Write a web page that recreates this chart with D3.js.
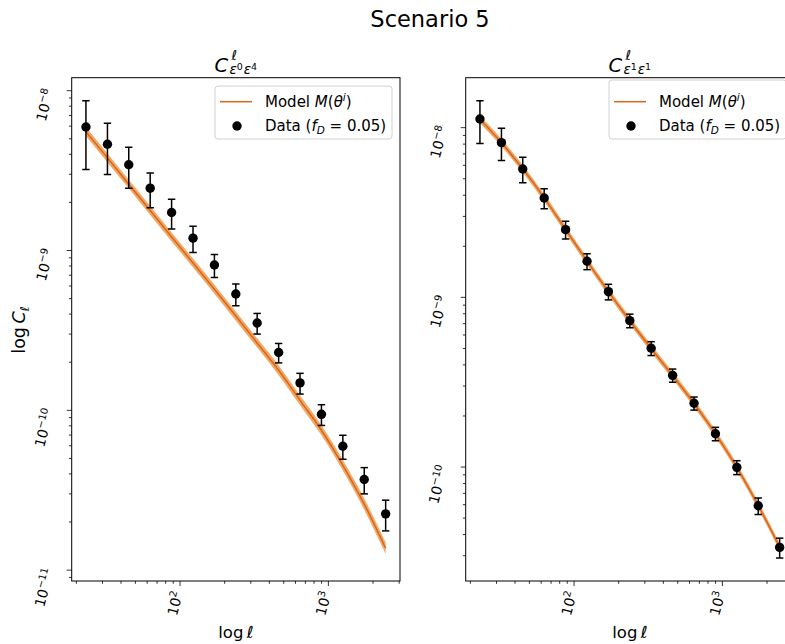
<!DOCTYPE html>
<html>
<head>
<meta charset="utf-8">
<script src="https://cdn.jsdelivr.net/npm/d3@7"></script>
<style>
  body { margin: 0; background: #fff; }
  svg { display: block; font-family: "DejaVu Sans", sans-serif; }
</style>
</head>
<body>
<svg id="chart" width="785" height="644"></svg>
<script>
// multipole bin centres
const ell = [23.2, 32.4, 45.1, 62.9, 87.7, 122.3, 170.5, 237.7, 331, 462, 644, 898, 1252, 1745, 2433];

// C_{eps0 eps4}
const dataA  = [5.93e-9, 4.62e-9, 3.44e-9, 2.455e-9, 1.728e-9, 1.195e-9, 8.11e-10, 5.34e-10, 3.52e-10, 2.30e-10, 1.484e-10, 9.44e-11, 5.96e-11, 3.69e-11, 2.25e-11];
const errA   = [2.72e-9, 1.63e-9, 0.99e-9, 0.60e-9, 0.367e-9, 0.225e-9, 1.33e-10, 0.83e-10, 0.52e-10, 0.32e-10, 0.22e-10, 0.14e-10, 1.02e-11, 0.69e-11, 0.49e-11];
const modelA = [5.55e-9, 3.80e-9, 2.60e-9, 1.78e-9, 1.216e-9, 8.36e-10, 5.73e-10, 3.89e-10, 2.64e-10, 1.78e-10, 1.155e-10, 7.5e-11, 4.53e-11, 2.59e-11, 1.37e-11];
const bandLoA = [5.20e-9, 3.56e-9, 2.44e-9, 1.67e-9, 1.14e-9, 7.84e-10, 5.37e-10, 3.64e-10, 2.47e-10, 1.66e-10, 1.075e-10, 6.97e-11, 4.20e-11, 2.39e-11, 1.26e-11];
const bandHiA = [5.92e-9, 4.05e-9, 2.77e-9, 1.90e-9, 1.297e-9, 8.92e-10, 6.11e-10, 4.15e-10, 2.82e-10, 1.91e-10, 1.24e-10, 8.07e-11, 4.89e-11, 2.81e-11, 1.49e-11];

// C_{eps1 eps1}
const dataB  = [1.125e-8, 8.16e-9, 5.71e-9, 3.85e-9, 2.506e-9, 1.632e-9, 1.08e-9, 7.29e-10, 5.01e-10, 3.47e-10, 2.375e-10, 1.571e-10, 9.96e-11, 5.91e-11, 3.36e-11];
const errB   = [3.17e-9, 1.76e-9, 0.98e-9, 0.52e-9, 0.30e-9, 0.176e-9, 1.14e-10, 0.67e-10, 0.47e-10, 0.31e-10, 0.21e-10, 0.143e-10, 0.94e-11, 0.66e-11, 0.45e-11];
const modelB = [1.12e-8, 8.15e-9, 5.72e-9, 3.86e-9, 2.51e-9, 1.635e-9, 1.08e-9, 7.28e-10, 5.0e-10, 3.46e-10, 2.37e-10, 1.57e-10, 9.95e-11, 5.93e-11, 3.38e-11];
const bandLoB = [1.065e-8, 7.75e-9, 5.44e-9, 3.67e-9, 2.386e-9, 1.554e-9, 1.027e-9, 6.92e-10, 4.75e-10, 3.29e-10, 2.253e-10, 1.492e-10, 9.46e-11, 5.64e-11, 3.21e-11];
const bandHiB = [1.178e-8, 8.57e-9, 6.02e-9, 4.06e-9, 2.64e-9, 1.72e-9, 1.136e-9, 7.66e-10, 5.26e-10, 3.64e-10, 2.493e-10, 1.652e-10, 1.047e-10, 6.24e-11, 3.56e-11];

const xTicks  = [1e2, 1e3];
const xTickExp = ["2", "3"];
const yTicksA = [1e-8, 1e-9, 1e-10, 1e-11];
const yTickExpA = ["\u22128", "\u22129", "\u221210", "\u221211"];
const yTicksB = [1e-8, 1e-9, 1e-10];
const yTickExpB = ["\u22128", "\u22129", "\u221210"];

const figTitle = "Scenario 5";
const panelSubs = [["0", "4"], ["1", "1"]];
const legendModel = "Model";
const legendData = "Data";
const fDValue = "0.05";

const lineColor = "#d8661d";
const bandColor = "#ef9a4c";

const svg = d3.select("#chart");

const panels = [
  { left: 71.7, right: 400, top: 77.7, bottom: 581, yDomain: [8.55e-12, 1.206e-8],
    data: dataA, err: errA, model: modelA, lo: bandLoA, hi: bandHiA,
    yTicks: yTicksA, yExp: yTickExpA, sub: panelSubs[0], legendTop: 86, yLabel: true },
  { left: 465.7, right: 794, top: 77.7, bottom: 581, yDomain: [2.13e-11, 1.970e-8],
    data: dataB, err: errB, model: modelB, lo: bandLoB, hi: bandHiB,
    yTicks: yTicksB, yExp: yTickExpB, sub: panelSubs[1], legendTop: 80, yLabel: false }
];

// figure title
svg.append("text")
  .attr("x", 430).attr("y", 27.3)
  .attr("text-anchor", "middle")
  .attr("font-size", 22.5)
  .attr("fill", "#000")
  .text(figTitle);

function minorTicks(domain) {
  const out = [];
  const e0 = Math.floor(Math.log10(domain[0])), e1 = Math.ceil(Math.log10(domain[1]));
  for (let e = e0; e <= e1; e++) {
    for (let m = 2; m <= 9; m++) {
      const v = m * Math.pow(10, e);
      if (v >= domain[0] && v <= domain[1]) out.push(v);
    }
  }
  return out;
}

// "10^k" label, rotated, anchored at its end
function powerLabel(g, x, y, exp) {
  const t = g.append("text")
    .attr("transform", `translate(${x},${y}) rotate(-75)`)
    .attr("text-anchor", "end")
    .attr("font-size", 14)
    .attr("fill", "#000");
  t.append("tspan").text("10");
  t.append("tspan").attr("font-size", 10).attr("dy", -5.8).text(exp);
}

panels.forEach((p, pi) => {
  const g = svg.append("g");
  const x = d3.scaleLog().domain([18.6, 3040]).range([p.left, p.right]);
  const y = d3.scaleLog().domain(p.yDomain).range([p.bottom, p.top]);

  const clipId = "clip" + pi;
  svg.append("clipPath").attr("id", clipId)
    .append("rect").attr("x", p.left).attr("y", p.top)
    .attr("width", p.right - p.left).attr("height", p.bottom - p.top);

  const plot = g.append("g").attr("clip-path", `url(#${clipId})`);

  // model uncertainty band and best-fit line
  const area = d3.area()
    .x((d, i) => x(ell[i]))
    .y0((d, i) => y(p.lo[i]))
    .y1((d, i) => y(p.hi[i]))
    .curve(d3.curveMonotoneX);
  plot.append("path").datum(p.model)
    .attr("d", area)
    .attr("fill", bandColor).attr("fill-opacity", 0.85);

  const line = d3.line()
    .x((d, i) => x(ell[i]))
    .y(d => y(d))
    .curve(d3.curveMonotoneX);
  plot.append("path").datum(p.model)
    .attr("d", line)
    .attr("fill", "none").attr("stroke", lineColor).attr("stroke-width", 1.5);

  // error bars
  const eb = plot.append("g").attr("stroke", "#000").attr("stroke-width", 1.5);
  p.data.forEach((v, i) => {
    const cx = x(ell[i]);
    const yt = y(v + p.err[i]), yb = y(v - p.err[i]);
    eb.append("line").attr("x1", cx).attr("x2", cx).attr("y1", yt).attr("y2", yb);
    eb.append("line").attr("x1", cx - 3.7).attr("x2", cx + 3.7).attr("y1", yt).attr("y2", yt);
    eb.append("line").attr("x1", cx - 3.7).attr("x2", cx + 3.7).attr("y1", yb).attr("y2", yb);
  });
  plot.append("g").selectAll("circle").data(p.data).join("circle")
    .attr("cx", (d, i) => x(ell[i]))
    .attr("cy", d => y(d))
    .attr("r", 4.7)
    .attr("fill", "#000");

  // ticks
  const tk = g.append("g").attr("stroke", "#000").attr("stroke-width", 0.8);
  p.yTicks.forEach(v => {
    tk.append("line").attr("x1", p.left - 5).attr("x2", p.left).attr("y1", y(v)).attr("y2", y(v));
  });
  minorTicks(p.yDomain).forEach(v => {
    tk.append("line").attr("x1", p.left - 2.8).attr("x2", p.left).attr("y1", y(v)).attr("y2", y(v));
  });
  xTicks.forEach(v => {
    tk.append("line").attr("x1", x(v)).attr("x2", x(v)).attr("y1", p.bottom).attr("y2", p.bottom + 5);
  });
  minorTicks([18.6, 3040]).forEach(v => {
    tk.append("line").attr("x1", x(v)).attr("x2", x(v)).attr("y1", p.bottom).attr("y2", p.bottom + 2.8);
  });

  p.yTicks.forEach((v, i) => powerLabel(g, p.left - 17.7, y(v), p.yExp[i]));
  xTicks.forEach((v, i) => powerLabel(g, x(v) + 3, p.bottom + 12, xTickExp[i]));

  // spines
  g.append("rect")
    .attr("x", p.left).attr("y", p.top)
    .attr("width", p.right - p.left).attr("height", p.bottom - p.top)
    .attr("fill", "none").attr("stroke", "#000").attr("stroke-width", 1);

  // panel title  C^l_{eps^a eps^b}
  const tg = g.append("g");
  const cT = tg.append("text").attr("x", 0).attr("y", 0)
    .attr("font-size", 19.5).attr("font-style", "italic").text("C");
  const wC = cT.node().getComputedTextLength();
  tg.append("text").attr("x", wC + 3.2).attr("y", -12)
    .attr("font-size", 13.5).attr("font-style", "italic").text("\u2113");
  const st = tg.append("text").attr("x", wC + 1.2).attr("y", 2.5).attr("font-size", 13.5);
  st.append("tspan").attr("font-style", "italic").text("\u03b5");
  st.append("tspan").attr("font-size", 9.5).attr("dy", -4.5).text(p.sub[0]);
  st.append("tspan").attr("font-style", "italic").attr("dx", 1).attr("dy", 4.5).text("\u03b5");
  st.append("tspan").attr("font-size", 9.5).attr("dy", -4.5).text(p.sub[1]);
  const bb = tg.node().getBBox();
  const cxT = (p.left + p.right) / 2;
  tg.attr("transform", `translate(${cxT - bb.width / 2 - bb.x},71.7)`);

  // axis labels
  const xl = g.append("text")
    .attr("x", cxT).attr("y", 638)
    .attr("text-anchor", "middle").attr("font-size", 16.5);
  xl.append("tspan").text("log\u2009");
  xl.append("tspan").attr("font-style", "italic").text("\u2113");

  if (p.yLabel) {
    const yl = g.append("text")
      .attr("transform", `translate(25,330) rotate(-90)`)
      .attr("text-anchor", "middle").attr("font-size", 17.5);
    yl.append("tspan").text("log\u2009");
    yl.append("tspan").attr("font-style", "italic").text("C");
    yl.append("tspan").attr("font-style", "italic").attr("font-size", 12.2).attr("dy", 3.8).text("\u2113");
  }

  // legend
  const lx = p.right - 8 - 177;
  const lg = g.append("g");
  lg.append("rect")
    .attr("x", lx).attr("y", p.legendTop)
    .attr("width", 177).attr("height", 139 - p.legendTop)
    .attr("rx", 3).attr("ry", 3)
    .attr("fill", "#fff").attr("fill-opacity", 0.8)
    .attr("stroke", "#d0d0d0").attr("stroke-width", 1);
  lg.append("line")
    .attr("x1", lx + 5).attr("x2", lx + 37).attr("y1", 101.7).attr("y2", 101.7)
    .attr("stroke", lineColor).attr("stroke-width", 1.5);
  lg.append("circle").attr("cx", lx + 22).attr("cy", 126).attr("r", 4.7).attr("fill", "#000");

  const t1 = lg.append("text").attr("x", lx + 50).attr("y", 107).attr("font-size", 15);
  t1.append("tspan").text(legendModel + " ");
  t1.append("tspan").attr("font-style", "italic").text("M");
  t1.append("tspan").text("(");
  t1.append("tspan").attr("font-style", "italic").text("\u03b8");
  t1.append("tspan").attr("font-style", "italic").attr("font-size", 10.5).attr("dy", -6).text("i");
  t1.append("tspan").attr("dy", 6).text(")");

  const t2 = lg.append("text").attr("x", lx + 50).attr("y", 131).attr("font-size", 15);
  t2.append("tspan").text(legendData + " (");
  t2.append("tspan").attr("font-style", "italic").text("f");
  t2.append("tspan").attr("font-style", "italic").attr("font-size", 10.5).attr("dy", 3).text("D");
  t2.append("tspan").attr("dy", -3).text(" = " + fDValue + ")");
});
</script>
</body>
</html>
